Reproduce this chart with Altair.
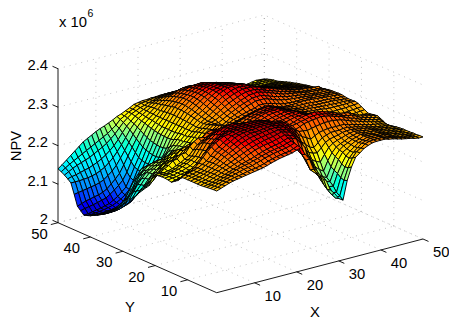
import altair as alt
import pandas as pd

# NPV surface, thousandths above 2.0 (x 10^6); rows from Y=50 to Y=1, columns from X=1 to X=50
npv_rows = [
 [140,148,157,166,175,184,193,199,205,211,216,220,225,230,236,240,245,250,256,258,260,260,261,261,262, 262,262,262,261,260,258,256,254,252,249,248,245,241,236,233,228,226,228,230,231,232,234,236,235,234],
 [136,143,150,156,162,168,174,180,186,192,198,204,212,220,232,238,245,250,256,260,261,263,265,266,267, 268,268,268,267,265,263,260,258,256,252,250,247,243,239,236,232,230,232,233,234,235,236,238,238,237],
 [131,137,143,148,152,156,160,166,172,178,185,194,204,216,228,237,245,250,255,258,262,265,268,270,272, 272,272,271,270,268,266,264,262,260,256,253,250,246,243,240,236,234,235,236,237,238,239,240,240,240],
 [125,128,130,133,136,139,143,148,154,161,170,180,193,208,222,232,242,248,254,259,265,269,273,276,278, 279,279,278,277,274,272,269,267,264,260,257,254,250,247,245,241,239,239,240,240,241,241,242,242,242],
 [118,118,118,119,120,122,125,130,136,145,155,168,183,199,216,229,240,247,254,261,268,273,278,281,284, 285,286,285,284,281,278,275,272,269,265,261,258,255,252,250,248,246,244,243,243,243,243,243,243,243],
 [ 92, 94, 96, 98,100,102,105,110,118,127,139,155,172,190,208,224,237,245,253,262,270,276,283,287,291, 293,294,293,292,289,286,282,279,276,271,267,264,261,258,255,252,250,248,247,246,246,246,246,246,246],
 [ 65, 69, 73, 75, 78, 80, 84, 90,100,110,122,141,161,181,200,219,235,244,253,262,272,280,288,293,298, 301,302,301,300,297,295,290,286,282,276,273,268,265,262,260,258,256,253,252,251,250,250,250,250,249],
 [ 57, 60, 62, 64, 67, 70, 73, 80, 88, 97,108,126,150,171,193,213,232,243,252,263,274,283,291,297,302, 305,307,306,306,304,301,296,292,288,282,278,274,270,267,265,263,260,257,256,255,254,253,253,252,252],
 [ 49, 50, 52, 54, 56, 59, 62, 68, 75, 84, 94,116,140,162,186,208,229,241,252,264,276,285,294,300,306, 310,312,313,314,311,308,303,298,294,286,283,278,275,272,270,268,265,262,260,258,257,256,256,255,255],
 [ 52, 52, 53, 54, 56, 58, 61, 66, 72, 80, 91,112,137,158,182,204,227,240,252,265,278,287,296,302,308, 312,315,316,317,315,312,307,303,298,290,287,282,279,276,274,271,268,265,263,261,259,258,258,257,257],
 [ 55, 55, 55, 55, 56, 57, 59, 64, 69, 78, 90,112,135,156,179,202,225,238,252,266,280,289,298,304,310, 315,318,319,320,318,316,312,308,304,296,291,286,283,280,278,275,272,270,268,266,264,262,261,260,260],
 [ 60, 59, 58, 59, 60, 61, 63, 67, 72, 82, 92,114,137,156,177,200,224,238,252,266,280,289,298,305,311, 316,320,322,323,320,319,315,312,308,300,296,290,287,284,282,278,276,274,271,269,267,265,264,263,262],
 [ 64, 63, 62, 63, 64, 65, 67, 71, 75, 85, 95,117,140,157,176,199,223,238,252,266,280,289,298,305,312, 317,322,324,326,323,322,319,316,312,304,300,294,291,288,285,282,280,278,275,272,270,268,267,265,264],
 [ 70, 69, 68, 69, 70, 73, 77, 82, 89, 98,107,125,146,161,178,200,223,238,252,265,279,287,296,304,311, 317,322,325,327,325,325,322,319,315,307,303,297,294,291,288,285,283,280,278,275,273,271,270,267,266],
 [ 76, 75, 74, 75, 77, 82, 87, 94,101,110,119,135,152,166,182,202,223,238,252,265,278,286,294,302,310, 316,322,325,328,328,328,325,322,318,310,308,300,297,294,291,288,285,283,281,278,276,274,272,270,268],
 [ 82, 83, 83, 87, 92,100,107,114,121,130,138,150,165,177,194,210,226,239,252,264,276,283,291,299,307, 314,321,325,329,330,330,328,325,320,313,310,303,300,297,294,291,288,285,283,281,279,277,275,271,269],
 [ 88, 90, 92,101,110,120,130,138,145,153,160,170,180,192,205,217,230,241,252,263,274,281,288,296,304, 312,320,325,330,331,332,330,328,323,316,312,306,303,300,297,294,291,288,286,284,282,280,278,272,270],
 [ 96,101,106,120,135,148,160,168,170,174,178,184,189,198,210,220,231,241,252,262,272,278,285,293,301, 309,316,321,326,329,330,329,328,325,318,314,308,304,300,297,294,291,288,287,285,283,282,280,275,273],
 [104,112,120,140,160,175,190,193,195,195,195,196,198,206,215,223,232,242,252,261,270,276,282,290,298, 305,312,317,322,325,328,328,328,325,322,316,314,310,306,302,298,295,292,290,288,287,286,285,284,276],
 [112,123,132,150,172,185,197,200,203,203,203,202,203,207,213,224,234,245,255,262,271,274,280,287,294, 301,307,312,317,321,324,325,325,322,319,314,311,307,303,300,297,294,291,289,287,286,285,284,282,278],
 [121,133,145,165,185,195,205,209,212,212,212,210,208,210,212,224,236,247,258,265,272,275,278,284,290, 296,302,307,312,316,320,321,322,319,316,312,308,304,300,298,296,294,292,290,288,287,286,285,284,280],
 [131,147,160,178,192,200,208,214,218,221,224,222,218,215,215,223,234,248,260,268,275,275,275,281,287, 293,298,304,308,312,316,317,317,314,310,306,303,300,297,295,294,292,291,289,287,286,285,285,284,281],
 [142,158,175,188,200,206,212,217,222,228,235,232,228,223,218,224,232,247,262,270,278,275,272,278,285, 290,295,300,305,308,312,312,312,309,305,301,298,296,294,293,292,291,290,288,288,287,286,285,284,281],
 [150,165,178,192,203,210,217,223,228,236,243,240,236,232,229,234,241,251,266,273,281,278,275,280,285, 288,292,295,298,300,305,305,304,301,298,294,292,291,290,290,291,291,290,288,288,287,286,285,284,282],
 [158,169,180,193,205,213,222,228,235,243,250,248,245,242,240,245,250,260,270,278,285,282,278,282,285, 288,292,295,298,300,302,300,298,295,292,291,290,290,290,291,292,291,290,289,288,287,286,285,284,282],
 [170,182,190,205,212,222,230,234,238,248,256,258,258,262,268,270,272,274,276,280,282,284,286,288,292, 296,298,302,306,308,310,308,304,300,295,293,291,289,289,289,289,288,287,286,286,285,284,283,283,280],
 [180,191,200,217,224,234,239,244,248,258,264,268,270,272,276,278,276,277,278,281,282,286,290,294,298, 302,305,308,311,312,313,310,305,300,295,292,290,288,287,287,287,286,285,285,284,284,283,282,281,279],
 [190,202,211,222,231,240,243,250,252,262,268,272,275,280,284,283,280,278,276,278,281,284,290,295,300, 304,307,310,312,314,314,311,306,301,296,292,290,288,286,286,285,284,283,282,282,281,281,281,280,279],
 [199,210,221,232,240,248,250,258,259,270,276,282,285,291,296,295,290,284,282,281,283,286,291,296,302, 306,310,312,315,316,317,312,308,302,297,292,289,287,285,284,283,282,280,279,279,279,279,279,280,280],
 [222,228,232,239,245,254,256,266,266,280,290,296,295,304,308,307,303,296,292,288,288,291,295,299,302, 307,311,315,317,317,318,314,310,305,298,293,290,286,284,282,278,276,275,274,275,275,275,276,277,278],
 [236,236,235,237,240,245,250,256,262,274,285,292,298,304,310,311,312,306,300,296,292,293,295,298,302, 306,310,314,316,317,318,315,312,307,302,297,292,288,284,280,274,271,268,268,268,269,270,271,272,273],
 [237,237,237,240,243,248,252,258,265,280,292,298,305,311,317,319,320,314,309,304,298,297,296,299,301, 305,308,311,313,315,317,316,314,309,303,297,290,286,282,277,271,267,265,264,264,265,266,267,268,269],
 [238,239,240,243,246,250,255,261,268,283,298,305,312,318,324,326,328,323,318,311,305,301,298,299,300, 303,306,309,312,314,316,316,316,311,304,296,290,284,278,273,268,265,262,262,262,262,262,263,263,264],
 [238,239,240,243,245,249,253,260,270,285,300,309,317,324,329,332,334,331,328,322,317,309,303,301,301, 303,306,309,310,312,315,315,316,312,306,300,294,288,283,278,273,270,267,266,265,265,264,265,265,265],
 [237,239,240,243,245,248,252,262,272,287,302,311,320,326,332,334,336,335,334,332,330,320,310,306,302, 302,302,305,308,311,314,315,316,313,310,307,305,300,296,292,288,286,285,280,276,274,272,270,268,267],
 [235,238,240,245,250,256,265,276,290,300,310,318,325,330,334,335,337,338,339,338,338,335,332,322,312, 308,305,305,305,308,312,315,318,319,320,318,316,312,308,304,300,298,296,290,284,281,278,275,272,268],
 [241,245,249,255,262,270,281,294,303,313,321,326,331,334,336,338,338,339,340,340,340,338,337,331,319, 311,306,306,306,308,311,313,316,317,318,316,314,310,306,303,298,295,293,288,282,279,276,273,270,264],
 [247,252,258,262,268,278,290,302,311,319,325,331,332,336,338,339,339,340,341,341,341,341,335,330,322, 312,303,301,300,304,309,311,313,314,316,314,312,308,305,302,296,292,289,284,280,277,274,271,268,260],
 [259,262,265,268,272,278,284,294,305,312,320,326,332,335,338,339,340,341,342,342,342,341,340,337,335, 325,316,306,298,297,295,298,300,302,304,304,304,302,300,296,292,288,285,281,278,275,272,269,266,255],
 [260,263,265,268,272,279,285,295,304,311,318,324,331,335,338,339,340,341,343,343,343,341,340,338,335, 320,312,298,288,283,276,282,288,290,292,292,292,292,292,288,286,283,280,277,274,272,270,267,264,257],
 [260,263,265,269,272,279,286,293,302,308,315,321,327,332,335,338,338,339,341,342,343,341,339,336,330, 312,300,282,272,262,258,268,278,282,286,286,286,288,288,285,284,280,278,275,272,270,268,266,264,259],
 [260,263,265,269,273,279,286,293,300,306,312,318,324,328,332,334,336,338,340,341,342,340,338,332,325, 305,285,265,255,250,248,258,270,275,278,280,284,285,286,284,282,280,278,275,272,270,268,266,264,261],
 [260,263,265,270,274,279,285,290,297,303,308,314,319,323,327,330,332,334,336,338,340,337,335,328,318, 295,275,255,240,232,228,245,260,268,273,276,280,283,285,283,281,279,278,275,272,270,268,266,264,262],
 [260,263,265,270,274,279,284,289,294,299,304,309,314,318,322,325,328,330,332,335,338,335,332,322,310, 285,265,245,225,215,208,232,250,262,268,272,278,281,284,282,280,279,278,275,272,270,268,266,264,263],
 [260,263,265,270,274,278,283,287,292,296,300,306,310,315,318,321,323,325,328,331,334,330,326,312,302, 276,252,230,210,200,195,220,244,258,266,271,277,280,284,282,280,278,278,275,272,270,268,266,264,263],
 [261,263,266,270,274,278,282,286,290,294,297,300,304,308,312,315,318,320,322,326,330,326,322,308,295, 266,240,215,198,191,188,215,240,256,262,270,276,279,284,282,282,279,278,275,272,270,268,266,264,263],
 [262,265,268,272,276,280,284,288,291,294,296,300,303,307,310,313,315,317,319,323,326,310,305,285,270, 250,232,205,190,182,180,210,232,250,260,268,276,280,284,283,283,280,279,276,272,270,268,266,264,264],
 [263,266,270,274,278,281,284,287,290,292,294,298,301,305,308,311,313,315,317,320,324,300,285,262,250, 235,225,196,180,170,168,203,228,248,260,270,278,282,285,284,284,280,278,276,272,270,268,266,265,264],
 [264,267,271,275,278,281,283,285,288,290,291,294,297,301,304,307,309,311,312,316,321,295,278,250,240, 228,222,188,172,160,162,200,230,252,266,272,280,284,285,285,285,281,280,276,274,271,269,267,265,265],
 [264,268,272,276,279,281,283,285,287,289,291,293,296,300,303,306,308,310,312,316,320,300,285,255,239, 225,218,190,178,162,155,203,235,258,266,275,280,284,285,285,285,282,280,277,274,272,270,267,265,265],
]
x_ticks = [10, 20, 30, 40, 50]
y_ticks = [10, 20, 30, 40, 50]
z_ticks = [2.0, 2.1, 2.2, 2.3, 2.4]
z_labels = ["2", "2.1", "2.2", "2.3", "2.4"]
jet = ["#000080", "#0000ff", "#00ffff", "#ffff00", "#ff0000", "#800000"]
jet_stops = [0, 0.125, 0.375, 0.625, 0.875, 1]
c_lo, c_hi = 2.02, 2.36

# view of the 3-D box (axis limits 1..50, 2..2.4)
def project(x, y, z):
    u, v, w = (x - 1) / 49, (y - 1) / 49, (z - 2) / 0.4
    return [216.7 + 206.3 * u - 158.7 * v, 292.7 - 53.7 * u - 70 * v - 154 * w]

n = len(npv_rows)
xs = [1 + 49 * i / (n - 1) for i in range(n)]
ys = [50 - 49 * j / (n - 1) for j in range(n)]
Z = [[2 + v / 1000 for v in row] for row in npv_rows]

quads = []
for j in range(n - 1):            # back to front
    for i in range(n - 2, -1, -1):
        ring = [project(xs[i], ys[j + 1], Z[j + 1][i]),
                project(xs[i + 1], ys[j + 1], Z[j + 1][i + 1]),
                project(xs[i + 1], ys[j], Z[j][i + 1]),
                project(xs[i], ys[j], Z[j][i]),
                project(xs[i], ys[j + 1], Z[j + 1][i])]
        quads.append({"type": "Feature", "properties": {"z": Z[j + 1][i]},
                      "geometry": {"type": "Polygon", "coordinates": [ring]}})

def line(*pts):
    return {"type": "Feature", "properties": {},
            "geometry": {"type": "LineString", "coordinates": [project(*p) for p in pts]}}

grid = []
for t in x_ticks:
    grid.append(line((t, 1, 2), (t, 50, 2)))
    grid.append(line((t, 50, 2), (t, 50, 2.4)))
for t in y_ticks:
    grid.append(line((1, t, 2), (50, t, 2)))
    grid.append(line((50, t, 2), (50, t, 2.4)))
for t in z_ticks:
    grid.append(line((1, 50, t), (50, 50, t), (50, 1, t)))

axes = [line((1, 50, 2.4), (1, 50, 2), (1, 1, 2), (50, 1, 2))]
tick_len = 1.7
for t in x_ticks:
    axes.append(line((t, 1, 2), (t, 1 - tick_len, 2)))
for t in y_ticks:
    axes.append(line((1, t, 2), (1 - tick_len, t, 2)))
for t in z_ticks:
    axes.append(line((1, 50, t), (1, 50 + tick_len, t)))

proj = dict(type="identity", scale=1, translate=[-8, -8])
FONT = "Liberation Sans"
FS = 14.8

def text_layer(rows, **kw):
    df = pd.DataFrame(rows, columns=["sx", "sy", "label"])
    return alt.Chart(df).mark_text(font=FONT, color="#000000", baseline="middle", **kw).encode(
        longitude="sx:Q", latitude="sy:Q", text="label:N")

grid_layer = alt.Chart(alt.Data(values=grid)).mark_geoshape(
    filled=False, stroke="#888888", strokeWidth=0.5, strokeDash=[1, 5])
surface = alt.Chart(alt.Data(values=quads)).mark_geoshape(
    stroke="#000000", strokeWidth=0.95).encode(
    color=alt.Color("properties.z:Q", legend=None,
                    scale=alt.Scale(domain=[c_lo + s * (c_hi - c_lo) for s in jet_stops],
                                    range=jet, clamp=True)))
axes_layer = alt.Chart(alt.Data(values=axes)).mark_geoshape(
    filled=False, stroke="#000000", strokeWidth=0.9)

xt = text_layer([project(t, 1, 2) + [str(t)] for t in x_ticks], fontSize=FS, dx=18.2, dy=14.2, align="center")
yt = text_layer([project(1, t, 2) + [str(t)] for t in y_ticks], fontSize=FS, dx=-18.6, dy=12.2, align="center")
zt = text_layer([project(1, 50, t) + [s] for t, s in zip(z_ticks, z_labels)], fontSize=FS, dx=-10, dy=-2.5, align="right")
x_title = text_layer([[315, 312.5, "X"]], fontSize=FS, align="center")
y_title = text_layer([[130, 308, "Y"]], fontSize=FS, align="center")
z_title = text_layer([[17, 146, "NPV"]], fontSize=FS, align="center", angle=270)
exp_base = text_layer([[59, 23, "x 10"]], fontSize=FS, align="left")
exp_pow = text_layer([[87.5, 13.5, "6"]], fontSize=10.5, align="left")

chart = alt.layer(grid_layer, surface, axes_layer, xt, yt, zt, x_title, y_title, z_title, exp_base, exp_pow).project(
    **proj
).properties(width=441, height=312, padding=0, autosize=alt.AutoSizeParams(type="none"),
             background="#ffffff").configure_view(stroke=None)

chart.save("out.html", embed_options={"renderer": "svg", "actions": False})
